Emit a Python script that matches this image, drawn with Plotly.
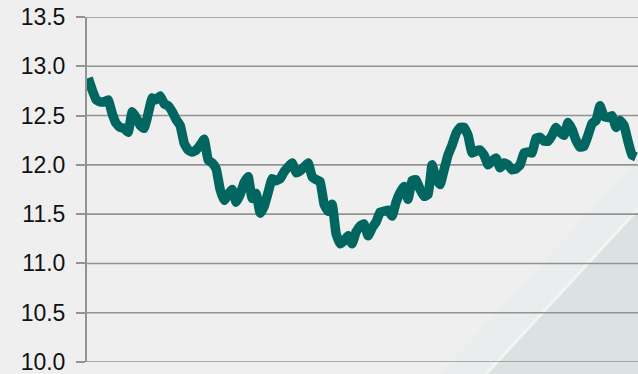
import plotly.graph_objects as go

values = [
    12.88, 12.76, 12.66, 12.64, 12.64, 12.66, 12.52, 12.42, 12.38, 12.37,
    12.33, 12.54, 12.48, 12.40, 12.37, 12.52, 12.68, 12.66, 12.70, 12.62,
    12.60, 12.54, 12.46, 12.40, 12.22, 12.15, 12.13, 12.15, 12.20, 12.26,
    12.05, 12.02, 11.96, 11.75, 11.64, 11.70, 11.75, 11.62, 11.70, 11.82,
    11.88, 11.66, 11.71, 11.51, 11.58, 11.72, 11.86, 11.84, 11.86, 11.93,
    11.98, 12.02, 11.92, 11.94, 11.98, 12.02, 11.88, 11.85, 11.83, 11.60,
    11.53, 11.60, 11.30, 11.20, 11.23, 11.28, 11.20, 11.32, 11.38, 11.40,
    11.28, 11.36, 11.42, 11.52, 11.53, 11.54, 11.48, 11.62, 11.72, 11.78,
    11.65, 11.84, 11.85, 11.75, 11.68, 11.70, 12.00, 11.86, 11.80, 11.95,
    12.10, 12.20, 12.32, 12.38, 12.38, 12.30, 12.12, 12.14, 12.15, 12.10,
    12.00, 12.04, 12.07, 11.97, 12.02, 12.00, 11.95, 11.96, 12.00, 12.12,
    12.13, 12.12, 12.27, 12.28, 12.24, 12.24, 12.30, 12.38, 12.33, 12.30,
    12.43, 12.36, 12.25, 12.18, 12.19, 12.30, 12.42, 12.45, 12.60, 12.49,
    12.48, 12.50, 12.38, 12.45, 12.40, 12.24, 12.10, 12.08,
]
periods = list(range(len(values)))

y_ticks = [10.0, 10.5, 11.0, 11.5, 12.0, 12.5, 13.0, 13.5]
y_tick_labels = [f"{v:.1f}" for v in y_ticks]

W, H = 638, 374
L, R, T, B = 87, 0, 17, 12
pw, ph = W - L - R, H - T - B
GRID = "#939393"


def px(xp):
    return (xp - L) / pw


def py(yp):
    return (H - B - yp) / ph


fig = go.Figure()
fig.add_trace(go.Scatter(
    x=periods, y=values, mode="lines",
    line=dict(color="#00665f", width=9.5, shape="spline", smoothing=0.3),
    hoverinfo="skip", showlegend=False,
))

# decorative background (bottom-right sheen)
shapes = [
    dict(type="path", xref="paper", yref="paper", layer="below",
         path=f"M {px(440)} {py(374)} L {px(638)} {py(160)} L {px(638)} {py(211)} L {px(488)} {py(374)} Z",
         fillcolor="#eaeded", line=dict(width=0)),
    dict(type="path", xref="paper", yref="paper", layer="below",
         path=f"M {px(488)} {py(374)} L {px(638)} {py(211)} L {px(638)} {py(374)} Z",
         fillcolor="#dbe3e2", line=dict(width=0)),
    dict(type="line", xref="paper", yref="paper", layer="below",
         x0=px(486), y0=py(374), x1=px(638), y1=py(209),
         line=dict(color="#f3f5f5", width=3)),
]
# horizontal grid lines, drawn on top of the background decoration
for v in y_ticks:
    shapes.append(dict(type="line", xref="paper", yref="y", layer="below",
                       x0=0, x1=1, y0=v, y1=v,
                       line=dict(color=GRID, width=1.6)))

fig.update_layout(
    width=W, height=H,
    margin=dict(l=L, r=R, t=T, b=B, pad=0),
    paper_bgcolor="#eeefee",
    plot_bgcolor="rgba(0,0,0,0)",
    shapes=shapes,
    xaxis=dict(range=[-0.3, len(values) - 0.5], visible=False, showgrid=False,
               zeroline=False),
    yaxis=dict(range=[10.0, 13.5], tickvals=y_ticks, ticktext=y_tick_labels,
               showgrid=False, zeroline=False,
               showline=True, linecolor=GRID, linewidth=2,
               ticks="outside", ticklen=9, tickwidth=1.6, tickcolor=GRID,
               tickfont=dict(family="Liberation Sans, Arial, sans-serif",
                             size=23, color="#111111"),
               ticklabelstandoff=6, ticklabeloverflow="allow"),
)

fig.write_html("out.html")
